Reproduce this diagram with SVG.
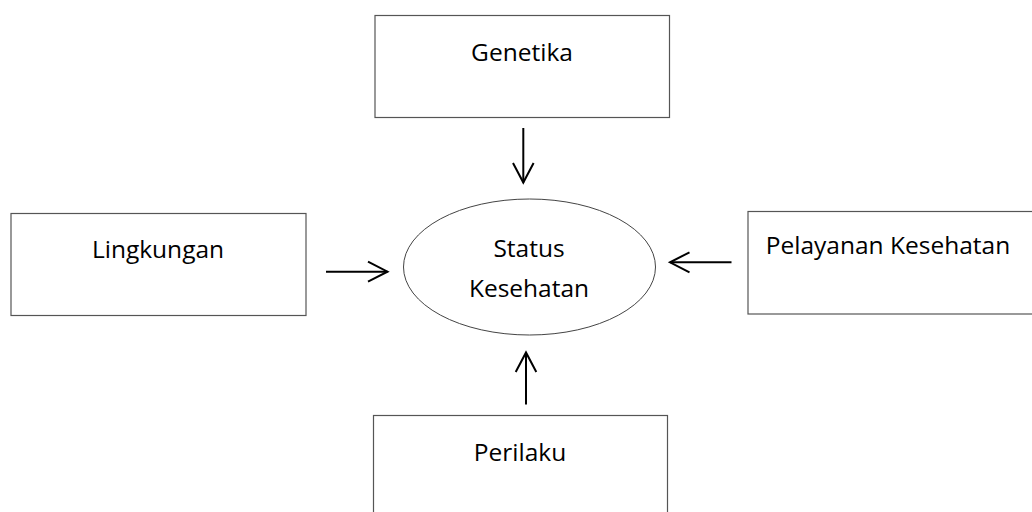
<svg xmlns="http://www.w3.org/2000/svg" width="1032" height="512" viewBox="0 0 1032 512">
<style>
.box{fill:#fff;stroke:#555;stroke-width:1.2}
.ell{fill:#fff;stroke:#444;stroke-width:1}
.t{font-family:"Open Sans","Liberation Sans",sans-serif;font-size:24.5px;fill:#000;text-anchor:middle}
.ar{stroke:#000;stroke-width:2;fill:none}
.hd{stroke:#000;stroke-width:2;fill:none;stroke-linecap:butt;stroke-linejoin:miter}
</style>
<rect width="1032" height="512" fill="#fff"/>
<g id="genetika"><rect class="box" x="375" y="15.5" width="294.5" height="102"/><text class="t" x="522" y="61">Genetika</text></g>
<g id="lingkungan"><rect class="box" x="11" y="213.5" width="295" height="102"/><text class="t" x="158" y="258">Lingkungan</text></g>
<g id="pelayanan"><rect class="box" x="748" y="211.5" width="290" height="102.5"/><text class="t" x="888" y="254">Pelayanan Kesehatan</text></g>
<g id="perilaku"><rect class="box" x="373.5" y="415.5" width="294" height="110"/><text class="t" x="520" y="461">Perilaku</text></g>
<g id="status"><ellipse class="ell" cx="529.5" cy="267" rx="126" ry="68"/><text class="t" x="529" y="257">Status</text><text class="t" x="529" y="297">Kesehatan</text></g>
<g id="connectors">
<path class="ar" d="M523.3 128V182.5"/><path class="hd" d="M513 163L523.3 182.5L533.6 163"/>
<path class="ar" d="M326 271.7H387.5"/><path class="hd" d="M368 261.7L387.5 271.7L368 281.7"/>
<path class="ar" d="M731.5 262.3H670"/><path class="hd" d="M689.5 252.3L670 262.3L689.5 272.3"/>
<path class="ar" d="M526 404.5V352.5"/><path class="hd" d="M515.7 372L526 352.5L536.3 372"/>
</g>
</svg>
